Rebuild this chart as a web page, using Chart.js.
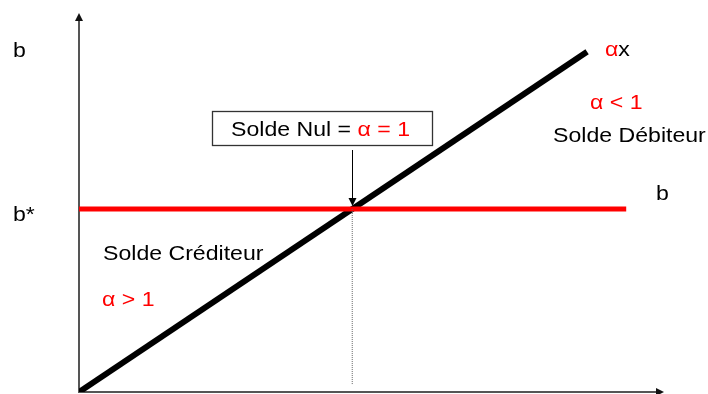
<!DOCTYPE html>
<html>
<head>
<meta charset="utf-8">
<script src="https://cdn.jsdelivr.net/npm/chart.js@4/dist/chart.umd.min.js"></script>
<style>
html,body{margin:0;padding:0;background:#fff;}
#wrap{width:708px;height:394px;}
</style>
</head>
<body>
<div id="wrap"><canvas id="c" width="708" height="394"></canvas></div>
<script>
// ---- data (in axis units 0..10) ----
const alphaLineX = [0, 8.7];      // line "αx"
const alphaLineY = [0, 9.0];
const bStar = 4.84;               // level b*
const bLineX = [0, 9.37];         // horizontal line "b"
const dottedBottom = 0.19;
// intersection (Solde Nul) on the αx line
const crossX = alphaLineX[0] + (bStar - alphaLineY[0]) * (alphaLineX[1] - alphaLineX[0]) / (alphaLineY[1] - alphaLineY[0]);

const labels = {
  yTop: "b", yStar: "b*", bRight: "b",
  alphaX: ["α", "x"], alphaLt: "α < 1", debit: "Solde Débiteur",
  credit: "Solde Créditeur", alphaGt: "α > 1",
  nul: ["Solde Nul = ", "α = 1"]
};

const RED = "#ff0000";
const FONT = '21px "Liberation Sans", Arial, sans-serif';
const SX = 1.1;

function txt(ctx, parts, x, y) {
  ctx.save();
  ctx.font = FONT;
  ctx.textBaseline = "alphabetic";
  ctx.textAlign = "left";
  ctx.translate(x, y);
  ctx.scale(SX, 1);
  let cx = 0;
  for (const [t, col] of parts) {
    ctx.fillStyle = col;
    ctx.fillText(t, cx, 0);
    cx += ctx.measureText(t).width;
  }
  ctx.restore();
}

const decor = {
  id: "decor",
  beforeDatasetsDraw(chart) {
    const {ctx, chartArea: a} = chart;
    ctx.save();
    ctx.strokeStyle = "#555";
    ctx.fillStyle = "#111";
    ctx.lineWidth = 2;
    // y axis
    ctx.beginPath(); ctx.moveTo(a.left, a.bottom + 1); ctx.lineTo(a.left, a.top + 4); ctx.stroke();
    ctx.beginPath(); ctx.moveTo(a.left, a.top - 1); ctx.lineTo(a.left - 4, a.top + 7); ctx.lineTo(a.left + 4, a.top + 7); ctx.closePath(); ctx.fill();
    // x axis
    ctx.beginPath(); ctx.moveTo(a.left, a.bottom); ctx.lineTo(a.right - 4, a.bottom); ctx.stroke();
    ctx.beginPath(); ctx.moveTo(a.right + 1, a.bottom); ctx.lineTo(a.right - 7, a.bottom - 4); ctx.lineTo(a.right - 7, a.bottom + 4); ctx.closePath(); ctx.fill();
    ctx.restore();
  },
  afterDatasetsDraw(chart) {
    const {ctx} = chart;
    const xs = chart.scales.x, ys = chart.scales.y;
    const px = xs.getPixelForValue(crossX), py = ys.getPixelForValue(bStar);
    txt(ctx, [[labels.yTop, "#000"]], 13, 57);
    txt(ctx, [[labels.yStar, "#000"]], 13, 221);
    txt(ctx, [[labels.bRight, "#000"]], 656, 200);
    txt(ctx, [[labels.alphaX[0], RED], [labels.alphaX[1], "#000"]], 605, 56);
    txt(ctx, [[labels.alphaLt, RED]], 590, 109);
    txt(ctx, [[labels.debit, "#000"]], 553, 142);
    txt(ctx, [[labels.credit, "#000"]], 103, 260);
    txt(ctx, [[labels.alphaGt, RED]], 102, 306);
    // annotation box
    ctx.save();
    ctx.fillStyle = "#fff";
    ctx.fillRect(212, 111, 221, 35);
    ctx.strokeStyle = "#333";
    ctx.lineWidth = 1.3;
    ctx.strokeRect(212.5, 111.5, 220, 34);
    ctx.restore();
    txt(ctx, [[labels.nul[0], "#000"], [labels.nul[1], RED]], 231, 136);
    // arrow to intersection
    ctx.save();
    ctx.strokeStyle = "#000"; ctx.fillStyle = "#000"; ctx.lineWidth = 1;
    const ax = Math.round(px) + 0.5;
    ctx.beginPath(); ctx.moveTo(ax, 150); ctx.lineTo(ax, py - 8); ctx.stroke();
    ctx.beginPath(); ctx.moveTo(ax, py - 3); ctx.lineTo(ax - 4, py - 11); ctx.lineTo(ax + 4, py - 11); ctx.closePath(); ctx.fill();
    ctx.restore();
  }
};

new Chart(document.getElementById("c"), {
  type: "scatter",
  data: {
    datasets: [
      { label: "dotted", data: [{x: crossX, y: bStar}, {x: crossX, y: dottedBottom}],
        showLine: true, borderColor: "#666", borderWidth: 1, borderDash: [1, 1], pointRadius: 0 },
      { label: "b", data: bLineX.map(x => ({x, y: bStar})),
        showLine: true, borderColor: RED, borderWidth: 5, pointRadius: 0, borderCapStyle: "butt" },
      { label: "αx", data: alphaLineX.map((x, i) => ({x, y: alphaLineY[i]})),
        showLine: true, borderColor: "#000", borderWidth: 6, pointRadius: 0, borderCapStyle: "butt" }
    ]
  },
  options: {
    responsive: false,
    animation: false,
    events: [],
    layout: { padding: { left: 79, right: 45, top: 14, bottom: 2 } },
    plugins: { legend: { display: false }, tooltip: { enabled: false } },
    scales: {
      x: { type: "linear", min: 0, max: 10, display: false },
      y: { type: "linear", min: 0, max: 10, display: false }
    }
  },
  plugins: [decor]
});
</script>
</body>
</html>
